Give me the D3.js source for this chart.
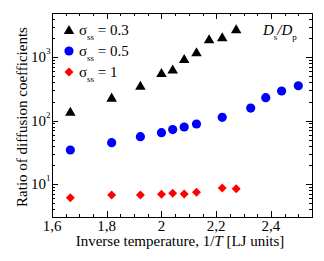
<!DOCTYPE html>
<html>
<head>
<meta charset="utf-8">
<script src="https://cdn.jsdelivr.net/npm/d3@7"></script>
<style>
  body { margin: 0; background: #fff; }
</style>
</head>
<body>
<svg id="chart" width="324" height="261" font-family="'Liberation Serif', 'Times New Roman', serif"></svg>
<script>
// inverse temperature 1/T for each series
var xBlack = [1.667, 1.818, 1.923, 2.0, 2.041, 2.083, 2.128, 2.174, 2.222, 2.273];
var yBlack = [138, 230, 355, 564, 640, 937, 1197, 1922, 2066, 2768];

var xBlue = [1.667, 1.818, 1.923, 2.0, 2.041, 2.083, 2.128, 2.222, 2.326, 2.381, 2.439, 2.5];
var yBlue = [34.3, 44.7, 55.6, 64.3, 72.2, 79.1, 88.3, 112.5, 157.8, 229.6, 293, 355];

var xRed = [1.667, 1.818, 1.923, 2.0, 2.041, 2.083, 2.128, 2.222, 2.273];
var yRed = [6.04, 6.67, 6.67, 6.84, 7.1, 6.92, 7.36, 8.6, 8.37];

var xTicks = [1.6, 1.8, 2.0, 2.2, 2.4];
var xTickLabels = ["1,6", "1,8", "2", "2,2", "2,4"];
var yTicks = [10, 100, 1000];
var yTickExp = ["1", "2", "3"];
var legendLabels = ["0.3", "0.5", "1"];

var svg = d3.select("#chart");
// plot frame (window.top is read-only, so use pTop etc.)
var pLeft = 52, pRight = 312, pTop = 13, pBottom = 217;

var x = d3.scaleLinear().domain([1.6, 2.55]).range([pLeft, pRight]);
var y = d3.scaleLog().domain([3, 5000]).range([pBottom, pTop]);

// minor ticks
var xMinor = d3.range(1.6, 2.551, 0.05).filter(function (v) {
    return Math.abs(v * 5 - Math.round(v * 5)) > 1e-6;
});
var yMinor = [];
[1, 10, 100, 1000].forEach(function (d) {
    for (var k = 2; k <= 9; k++) {
        var v = d * k;
        if (v >= 3 && v <= 5000) yMinor.push(v);
    }
});

var g = svg.append("g").attr("stroke", "#000").attr("stroke-width", 1);

// ticks pointing inward on all four sides
function hTicks(vals, len) {
    vals.forEach(function (v) {
        var px = Math.round(x(v)) + 0.5;
        g.append("line").attr("x1", px).attr("x2", px).attr("y1", pBottom).attr("y2", pBottom - len);
        g.append("line").attr("x1", px).attr("x2", px).attr("y1", pTop).attr("y2", pTop + len);
    });
}
function vTicks(vals, len) {
    vals.forEach(function (v) {
        var py = Math.round(y(v)) + 0.5;
        g.append("line").attr("y1", py).attr("y2", py).attr("x1", pLeft).attr("x2", pLeft + len);
        g.append("line").attr("y1", py).attr("y2", py).attr("x1", pRight).attr("x2", pRight - len);
    });
}
hTicks(xTicks, 6);
hTicks(xMinor, 3);
vTicks(yTicks, 6);
vTicks(yMinor, 3);

svg.append("rect")
    .attr("x", pLeft + 0.5).attr("y", pTop + 0.5)
    .attr("width", pRight - pLeft).attr("height", pBottom - pTop)
    .attr("fill", "none").attr("stroke", "#000").attr("stroke-width", 1);

// x tick labels
svg.selectAll(".xl").data(xTicks).enter().append("text")
    .attr("x", function (d) { return x(d); })
    .attr("y", 231)
    .attr("text-anchor", "middle")
    .attr("font-size", 15)
    .text(function (d, i) { return xTickLabels[i]; });

// y tick labels 10^n
yTicks.forEach(function (v, i) {
    svg.append("text")
        .attr("x", 46).attr("y", y(v) + 5)
        .attr("text-anchor", "end")
        .attr("font-size", 15)
        .text("10");
    svg.append("text")
        .attr("x", 46).attr("y", y(v) - 3)
        .attr("font-size", 9)
        .text(yTickExp[i]);
});

// axis titles
svg.append("text")
    .attr("x", (pLeft + pRight) / 2 - 2).attr("y", 246)
    .attr("text-anchor", "middle")
    .attr("font-size", 15)
    .html('Inverse temperature, 1/<tspan font-style="italic">T</tspan> [LJ units]');

svg.append("text")
    .attr("transform", "translate(27," + ((pTop + pBottom) / 2 + 2) + ") rotate(-90)")
    .attr("text-anchor", "middle")
    .attr("font-size", 15)
    .text("Ratio of diffusion coefficients");

// markers
var tri = d3.symbol().type(d3.symbolTriangle).size(48);
var dia = d3.symbol().type(d3.symbolSquare).size(40);

svg.selectAll(".tri").data(xBlack).enter().append("path")
    .attr("d", tri)
    .attr("transform", function (d, i) { return "translate(" + x(d) + "," + (y(yBlack[i]) + 1) + ")"; })
    .attr("fill", "#000");

svg.selectAll(".circ").data(xBlue).enter().append("circle")
    .attr("cx", function (d) { return x(d); })
    .attr("cy", function (d, i) { return y(yBlue[i]); })
    .attr("r", 4.6)
    .attr("fill", "#0000ff");

svg.selectAll(".dia").data(xRed).enter().append("path")
    .attr("d", dia)
    .attr("transform", function (d, i) { return "translate(" + x(d) + "," + y(yRed[i]) + ") rotate(45)"; })
    .attr("fill", "#ff0000");

// legend
var legY = [30, 51, 72];
svg.append("path").attr("d", tri).attr("transform", "translate(69," + (legY[0] + 1) + ")").attr("fill", "#000");
svg.append("circle").attr("cx", 69).attr("cy", legY[1]).attr("r", 4.6).attr("fill", "#0000ff");
svg.append("path").attr("d", dia).attr("transform", "translate(69," + legY[2] + ") rotate(45)").attr("fill", "#ff0000");

legendLabels.forEach(function (lab, i) {
    svg.append("text")
        .attr("x", 79).attr("y", legY[i] + 5)
        .attr("font-size", 15)
        .html('σ<tspan font-size="9" dy="5">ss</tspan><tspan dy="-5"> = ' + lab + '</tspan>');
});

// D_s / D_p annotation (italic D, upright subscripts)
svg.append("text")
    .attr("x", 263).attr("y", 35)
    .attr("font-size", 15)
    .html('<tspan font-style="italic">D</tspan><tspan font-size="9" dy="5">s</tspan>' +
          '<tspan dy="-5" font-style="italic">/D</tspan><tspan font-size="9" dy="5">p</tspan>');
</script>
</body>
</html>
